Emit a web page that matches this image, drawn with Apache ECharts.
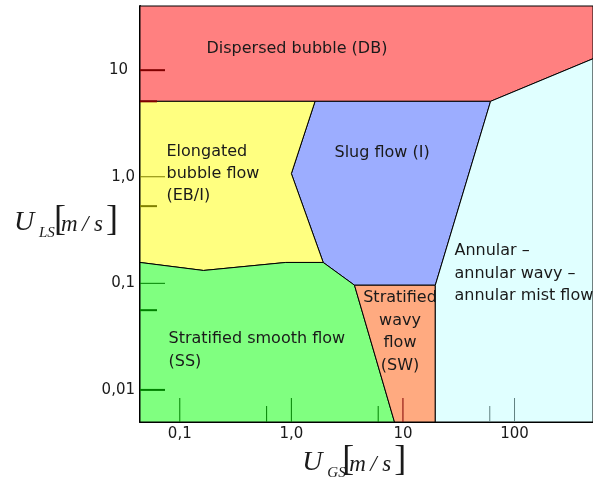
<!DOCTYPE html>
<html>
<head>
<meta charset="utf-8">
<script src="https://cdn.jsdelivr.net/npm/echarts@6/dist/echarts.min.js"></script>
<style>
  html, body { margin: 0; padding: 0; background: #fff; }
  #chart { width: 593px; height: 483px; }
</style>
</head>
<body>
<div id="chart"></div>
<script>
// Superficial gas velocity U_GS [m/s] (x) and liquid velocity U_LS [m/s] (y), both logarithmic
const ugsRange = [0.044, 505];
const ulsRange = [0.005, 40];

const ugsTicks = [0.1, 1, 10, 100];
const ugsTickLabels = ['0,1', '1,0', '10', '100'];
const ugsMinorTicks = [0.6, 6, 60];

const ulsTicks = [0.01, 0.1, 1, 10];
const ulsTickLabels = ['0,01', '0,1', '1,0', '10'];
const ulsMinorTicks = [0.056, 0.53, 5.1];

// Flow-regime regions, vertices as [U_GS, U_LS]
const dispersedBubble = [[0.044, 40], [505, 40], [505, 12.8], [61, 5.1], [1.63, 5.1], [0.044, 5.1]];
const slugFlow = [[1.63, 5.1], [61, 5.1], [19.5, 0.096], [3.68, 0.096], [1.93, 0.157], [1.0, 1.07]];
const elongatedBubble = [[0.044, 5.1], [1.63, 5.1], [1.0, 1.07], [1.93, 0.157], [0.89, 0.157], [0.163, 0.132], [0.044, 0.157]];
const stratifiedSmooth = [[0.044, 0.157], [0.163, 0.132], [0.89, 0.157], [1.93, 0.157], [3.68, 0.096], [8.4, 0.005], [0.044, 0.005]];
const stratifiedWavy = [[3.68, 0.096], [19.5, 0.096], [19.5, 0.005], [8.4, 0.005]];
const annularFlow = [[61, 5.1], [505, 12.8], [505, 0.005], [19.5, 0.005], [19.5, 0.096]];

const regionNames = [
  'Dispersed bubble (DB)',
  'Slug flow (I)',
  'Elongated\nbubble flow\n(EB/I)',
  'Stratified smooth flow\n(SS)',
  'Stratified\nwavy\nflow\n(SW)',
  'Annular –\nannular wavy –\nannular mist flow'
];

// ---- build ----
const lg = Math.log10;
const regions = [dispersedBubble, slugFlow, elongatedBubble, stratifiedSmooth, stratifiedWavy, annularFlow];
const regionColors = ['#ff8080', '#9cadff', '#ffff80', '#80ff80', '#ffaa80', '#e0ffff'];
const logRegions = regions.map(r => r.map(p => [lg(p[0]), lg(p[1])]));

function labelFor(v, ticks, labels) {
  for (let i = 0; i < ticks.length; i++) {
    if (Math.abs(lg(ticks[i]) - v) < 1e-6) return labels[i];
  }
  return '';
}

function inside(pt, poly) {
  let c = false;
  for (let i = 0, j = poly.length - 1; i < poly.length; j = i++) {
    const [xi, yi] = poly[i], [xj, yj] = poly[j];
    if (((yi > pt[1]) !== (yj > pt[1])) &&
        (pt[0] < (xj - xi) * (pt[1] - yi) / (yj - yi) + xi)) c = !c;
  }
  return c;
}

// tick marks take a darkened tone of the region they sit in
function darken(hex) {
  const ch = [1, 3, 5].map(k => parseInt(hex.substr(k, 2), 16));
  const d = ch.map(c => c >= 240 ? 128 : (c >= 200 ? 96 : 0));
  return 'rgb(' + d.join(',') + ')';
}
function tickColor(logPt) {
  for (let i = 0; i < logRegions.length; i++) {
    if (inside(logPt, logRegions[i])) return darken(regionColors[i]);
  }
  return '#000';
}

const tickItems = [];
ugsTicks.forEach(v => tickItems.push({ value: [lg(v), lg(ulsRange[0])], axis: 'x', major: true, v: v }));
ugsMinorTicks.forEach(v => tickItems.push({ value: [lg(v), lg(ulsRange[0])], axis: 'x', major: false, v: v }));
ulsTicks.forEach(v => tickItems.push({ value: [lg(ugsRange[0]), lg(v)], axis: 'y', major: true, v: v }));
ulsMinorTicks.forEach(v => tickItems.push({ value: [lg(ugsRange[0]), lg(v)], axis: 'y', major: false, v: v }));

// heavier strokes for the outermost major U_LS ticks
function yTickWidth(t) {
  if (!t.major) return 2;
  return (t.v === 10 || t.v === 0.01) ? 2 : 1;
}

const fontSans = 'DejaVu Sans';
const fontSerif = 'Liberation Serif';
const textColor = '#1a1a1a';

const chart = echarts.init(document.getElementById('chart'), null, { renderer: 'canvas' });

function regionText(text, x, y, lineHeight, align) {
  return {
    type: 'text', x: x, y: y, z: 10,
    style: {
      text: text, fill: textColor, font: '16px "' + fontSans + '"',
      lineHeight: lineHeight, align: align || 'left', verticalAlign: 'top'
    }
  };
}
function serif(text, x, y, size, italic) {
  return {
    type: 'text', x: x, y: y, z: 10,
    style: {
      text: text, fill: textColor,
      font: (italic ? 'italic ' : '') + size + 'px "' + fontSerif + '"',
      align: 'left', verticalAlign: 'middle'
    }
  };
}
// axis title of the form U_sub [m / s], placed by its left edge and baseline
function velocityTitle(sub, x0, base) {
  const unit = 23;
  return [
    serif('U', x0 - 1, base - 0.3375 * 28, 28, true),
    serif(sub, x0 + 24, base + 6 - 0.3375 * 15, 15, true),
    serif('[', x0 + 39, base + 0.5 - 0.3375 * 36, 36, false),
    serif('m', x0 + 46, base - 0.3375 * unit, unit, true),
    serif('/', x0 + 67, base - 0.3375 * unit, unit, true),
    serif('s', x0 + 79, base - 0.3375 * unit, unit, true),
    serif(']', x0 + 91, base + 0.5 - 0.3375 * 36, 36, false)
  ];
}

chart.setOption({
  animation: false,
  grid: { left: 140, top: 6, right: -2, bottom: 61 },
  xAxis: {
    type: 'value',
    min: lg(ugsRange[0]), max: lg(ugsRange[1]),
    axisLine: { show: true, onZero: false, lineStyle: { color: '#000', width: 2 } },
    axisTick: { show: false },
    splitLine: { show: false },
    axisLabel: {
      customValues: ugsTicks.map(lg),
      formatter: v => labelFor(v, ugsTicks, ugsTickLabels),
      color: textColor, fontSize: 15, fontFamily: fontSans, margin: 5
    }
  },
  yAxis: {
    type: 'value',
    min: lg(ulsRange[0]), max: lg(ulsRange[1]),
    axisLine: { show: true, onZero: false, lineStyle: { color: '#000', width: 2 } },
    axisTick: { show: false },
    splitLine: { show: false },
    axisLabel: {
      customValues: ulsTicks.map(lg),
      formatter: v => {
        const s = labelFor(v, ulsTicks, ulsTickLabels);
        return s === '10' ? '{pad|' + s + '}' : s;
      },
      rich: { pad: { padding: [0, 7, 0, 0], fontSize: 15, fontFamily: fontSans, color: textColor } },
      color: textColor, fontSize: 15, fontFamily: fontSans, margin: 5
    }
  },
  series: [
    {
      type: 'custom',
      name: 'regions',
      coordinateSystem: 'cartesian2d',
      data: logRegions.map(r => r[0]),
      renderItem: (params, api) => {
        const pts = logRegions[params.dataIndex].map(p => api.coord(p));
        return {
          type: 'polygon',
          shape: { points: pts },
          style: { fill: regionColors[params.dataIndex], stroke: '#000', lineWidth: 1 }
        };
      },
      z: 1
    },
    {
      type: 'custom',
      name: 'ticks',
      coordinateSystem: 'cartesian2d',
      data: tickItems.map(t => t.value),
      renderItem: (params, api) => {
        const t = tickItems[params.dataIndex];
        const p = api.coord(t.value);
        if (t.axis === 'x') {
          const len = t.major ? 24 : 16;
          return {
            type: 'line',
            shape: { x1: p[0], y1: p[1], x2: p[0], y2: p[1] - len },
            style: { stroke: tickColor([t.value[0], t.value[1] + 0.05]), lineWidth: 1 }
          };
        }
        const len = t.major ? 25 : 17;
        return {
          type: 'line',
          shape: { x1: p[0], y1: p[1], x2: p[0] + len, y2: p[1] },
          style: { stroke: tickColor([t.value[0] + 0.05, t.value[1] + 0.01]), lineWidth: yTickWidth(t) }
        };
      },
      z: 3
    }
  ],
  graphic: [
    regionText(regionNames[0], 206.5, 48.5 - 11, 22),
    regionText(regionNames[1], 334.5, 152.5 - 11, 22),
    regionText(regionNames[2], 166.5, 151.8 - 11.1, 22.2),
    regionText(regionNames[3], 168.5, 338.5 - 11.8, 23.6),
    regionText(regionNames[4], 400, 297.8 - 11.3, 22.6, 'center'),
    regionText(regionNames[5], 454.5, 251.2 - 11, 22.1)
  ].concat(velocityTitle('LS', 15, 232.3), velocityTitle('GS', 303.3, 472.3))
});
</script>
</body>
</html>
